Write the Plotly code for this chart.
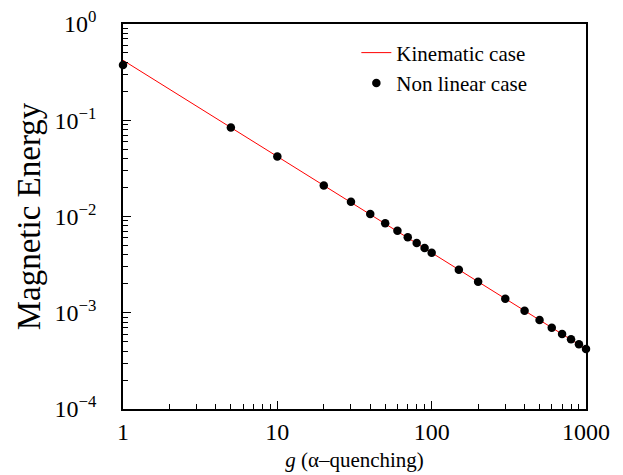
import plotly.graph_objects as go

# Kinematic case (straight line on log-log)
kin_g = [1, 1000]
kin_E = [0.42, 0.00042]

# Non linear case (points)
nl_g = [1, 5, 10, 20, 30, 40, 50, 60, 70, 80, 90, 100, 150, 200, 300, 400, 500, 600, 700, 800, 900, 1000]
nl_E = [0.375, 0.084, 0.042, 0.021, 0.0142, 0.0106, 0.0085, 0.0071, 0.0061, 0.0053, 0.0047, 0.0042,
        0.0028, 0.0021, 0.0014, 0.00105, 0.00084, 0.0007, 0.0006, 0.00053, 0.00047, 0.00042]

x_ticks = [1, 10, 100, 1000]
x_ticktext = ["1", "10", "100", "1000"]
y_ticks = [1e-4, 1e-3, 1e-2, 1e-1, 1]
y_ticktext = ["10<sup>−4</sup>", "10<sup>−3</sup>", "10<sup>−2</sup>", "10<sup>−1</sup>", "10<sup>0</sup>"]

x_minor = [m * 10 ** d for d in range(0, 3) for m in range(2, 10)]
y_minor = [m * 10.0 ** d for d in range(-4, 0) for m in range(2, 10)]

FONT = "Liberation Serif, Times New Roman, serif"

fig = go.Figure()
fig.add_trace(go.Scatter(x=kin_g, y=kin_E, mode="lines", name="Kinematic case",
                         line=dict(color="#ff0000", width=1)))
fig.add_trace(go.Scatter(x=nl_g, y=nl_E, mode="markers", name="Non linear case",
                         marker=dict(color="black", size=8.5), cliponaxis=False))

axis_common = dict(
    type="log", showgrid=False, zeroline=False, showline=True, linecolor="black", linewidth=1.5,
    mirror=True, ticks="inside", ticklen=8, tickwidth=1, tickcolor="black", automargin=False,
    tickfont=dict(family=FONT, size=24, color="black"), ticklabeloverflow="allow",
)

fig.update_xaxes(**axis_common, range=[0, 3], tickmode="array", tickvals=x_ticks, ticktext=x_ticktext,
                 minor=dict(ticks="inside", ticklen=5, tickwidth=1, tickcolor="black",
                            tickmode="array", tickvals=x_minor, showgrid=False),
                 title=dict(text="<i>g</i> (α–quenching)", font=dict(family=FONT, size=21, color="black"),
                            standoff=9))
fig.update_yaxes(**axis_common, range=[-4, 0], tickmode="array", tickvals=y_ticks, ticktext=y_ticktext,
                 ticklabelstandoff=20,
                 minor=dict(ticks="inside", ticklen=5, tickwidth=1, tickcolor="black",
                            tickmode="array", tickvals=y_minor, showgrid=False),
                 title=dict(text="Magnetic Energy", font=dict(family=FONT, size=33, color="black"),
                            standoff=4))

fig.update_layout(
    width=615, height=467,
    margin=dict(l=115, r=37, t=16, b=66),
    plot_bgcolor="white", paper_bgcolor="white",
    font=dict(family=FONT, color="black"),
    showlegend=True,
    legend=dict(x=0.504, y=0.978, xanchor="left", yanchor="top",
                font=dict(family=FONT, size=21, color="black"),
                bgcolor="rgba(0,0,0,0)", tracegroupgap=0),
)

fig.write_html("out.html")
